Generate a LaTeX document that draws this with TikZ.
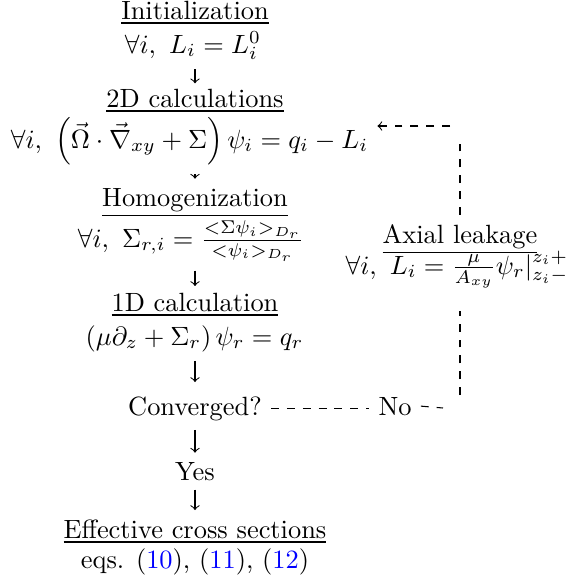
\documentclass[tikz,border=0pt]{standalone}
\usepackage{amsmath}
\usepackage{amssymb}
\usepackage{tikz}

\tikzset{lbl/.style={anchor=base}, back/.style={dashed}}

\begin{document}
\begin{tikzpicture}[x=0.3788pt, y=-0.3788pt]
                    \useasboundingbox (0,0) rectangle (571,586);
                    % Nodes
                    \node[lbl] (init) at (195,19) {\underline{Initialization}};
                    \node[lbl] (initeq) at (193,53) {$\forall i,\ L_i = L_i^0$};
                    \node[lbl] (calc) at (195,107) {\underline{2D calculations}};
                    \node[lbl] (calceq) at (189.5,148) {$\forall i,\ \left(\vec{\Omega}\cdot\vec{\nabla}_{xy}+\Sigma\right)\psi_i = q_i - L_i$};
                    \node[lbl] (homog) at (195,206) {\underline{Homogenization}};
                    \node[lbl] (homogeq) at (191,247) {$\forall i,\ \Sigma_{r,i} = \frac{<\Sigma\psi_i>_{D_r}}{<\psi_i>_{D_r}}$};
                    \node[lbl] (axial) at (195,311) {\underline{1D calculation}};
                    \node[lbl] (axialeq) at (194.5,345) {$\left(\mu\partial_z+\Sigma_r\right)\psi_r = q_r$};
                    \node[lbl] (conv) at (195,415) {Converged?};
                    \node[lbl] (no) at (395,415) {No};
                    \node[lbl] (yes) at (195,480) {Yes};
                    \node[lbl] (xs) at (195,538) {\underline{Effective cross sections}};
                    \node[lbl] (xseq) at (195,568) {eqs. (\textcolor{blue}{10}), (\textcolor{blue}{11}), (\textcolor{blue}{12})};
                    \node[lbl] (leak) at (460,243) {\underline{Axial leakage}};
                    \node[lbl] (leakeq) at (457,274) {$\forall i,\ L_i = \frac{\mu}{A_{xy}}\psi_r|_{z_i-}^{z_i+}$};
                    \coordinate (nocorner) at (443,408);
                    \coordinate (lowleak) at (460,395);
                    \coordinate (upleak) at (460,143);
                    \coordinate (upright) at (450,126);
                    % Edges
                    \draw[->, shorten >=-1.5pt] (initeq.south -| calc.north) -- (calc.north);
                    \draw[->] (calceq.south -| homog.north) -- (homog.north);
                    \draw[->, shorten >=-1pt] (homogeq.south -| axial.north) -- (axial.north);
                    \draw[->, shorten >=1.9pt] (axialeq.south -| conv.north) -- (conv.north);
                    \draw[->] (conv.south -| yes.north) -- (yes.north);
                    \draw[->] (yes.south -| xs.north) -- (xs.north);
                    \draw[back] (conv.east) -- (conv.east -| no.west);
                    \draw[back] (no.east) -- (nocorner);
                    \draw[back, shorten >=5pt] (lowleak) -- (lowleak |- leakeq.south);
                    \draw[back] (leak.north -| upleak) -- (upleak);
                    \draw[back, ->] (upright) -- (upright -| calceq.east);
                \end{tikzpicture}
\end{document}
